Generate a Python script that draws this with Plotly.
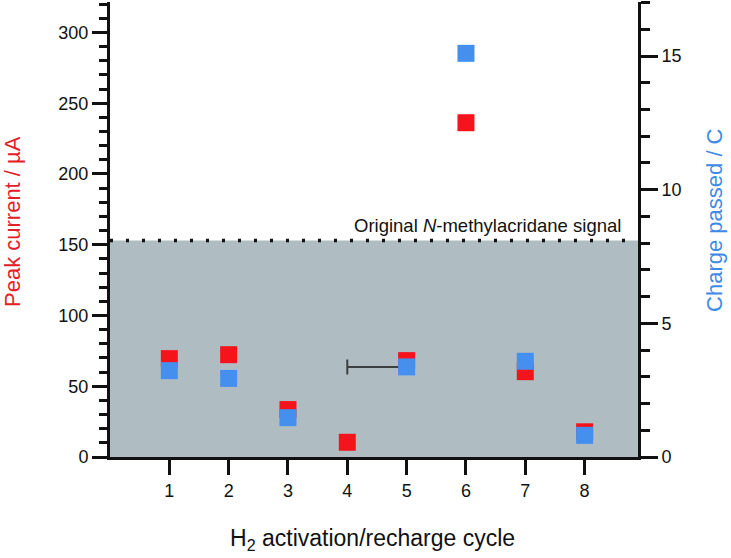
import plotly.graph_objects as go

cycles = [1, 2, 3, 4, 5, 6, 7, 8]
peak_current = [69.5, 72.3, 33.5, 10.4, 68.1, 236.2, 60.3, 17.8]
charge_passed = [3.23, 2.94, 1.47, None, 3.37, 15.1, 3.58, 0.81]
charge_err_minus = [0, 0, 0, 0, 1, 0, 0, 0]
charge_err_plus = [0, 0, 0, 0, 0, 0, 0, 0]
original_signal = 153
x_ticks = [1, 2, 3, 4, 5, 6, 7, 8]

FONT = "Arial, 'Liberation Sans', sans-serif"
RED = "#f5141c"
BLUE = "#4590ee"

fig = go.Figure()

fig.add_trace(go.Scatter(
    x=cycles, y=peak_current, mode="markers",
    marker=dict(symbol="square", size=17, color=RED, line=dict(width=0)),
    yaxis="y", showlegend=False, hoverinfo="skip"))

fig.add_trace(go.Scatter(
    x=cycles, y=charge_passed, mode="markers",
    marker=dict(symbol="square", size=17, color=BLUE, line=dict(width=0)),
    error_x=dict(type="data", symmetric=False, array=charge_err_plus,
                 arrayminus=charge_err_minus, color="#3a3f42",
                 thickness=2, width=7.5),
    yaxis="y2", showlegend=False, hoverinfo="skip"))

fig.add_shape(type="rect", xref="paper", yref="y", x0=0, x1=1,
              y0=0, y1=original_signal, fillcolor="#afbdc2",
              line=dict(width=0), layer="below")
fig.add_shape(type="line", xref="paper", yref="y", x0=0, x1=1,
              y0=original_signal, y1=original_signal,
              line=dict(color="#111111", width=3.5, dash="3px,13px"),
              layer="above")

fig.add_annotation(text="Original <i>N</i>-methylacridane signal",
                   xref="paper", yref="paper", x=0.9716, y=0.5077,
                   xanchor="right", yanchor="middle", showarrow=False,
                   font=dict(family=FONT, size=18.5, color="#111111"))

fig.add_annotation(text="Peak current / µA", xref="paper", yref="paper",
                   x=-0.1837, y=0.5165, xanchor="center", yanchor="middle",
                   textangle=-90, showarrow=False,
                   font=dict(family=FONT, size=22, color="#e3202a"))
fig.add_annotation(text="Charge passed / C", xref="paper", yref="paper",
                   x=1.1458, y=0.521, xanchor="center", yanchor="middle",
                   textangle=-90, showarrow=False,
                   font=dict(family=FONT, size=22, color="#3f8ae6"))
fig.add_annotation(text="H<sub>2</sub> activation/recharge cycle",
                   xref="paper", yref="paper", x=0.498, y=-0.1824,
                   xanchor="center", yanchor="middle", showarrow=False,
                   font=dict(family=FONT, size=23, color="#111111"))

fig.update_layout(
    width=731, height=558,
    margin=dict(l=110, r=93, t=2, b=101),
    paper_bgcolor="white", plot_bgcolor="white",
    font=dict(family=FONT, size=18, color="#111111"),
    xaxis=dict(range=[0, 8.9], tickvals=x_ticks, ticks="outside",
               ticklen=15, tickwidth=3, tickcolor="#111111",
               showline=True, linewidth=3, linecolor="#111111",
               showgrid=False, zeroline=False,
               tickfont=dict(size=18)),
    yaxis=dict(range=[0, 321.5], tick0=0, dtick=50, ticks="outside",
               ticklen=15, tickwidth=3, tickcolor="#111111",
               minor=dict(dtick=10, ticks="outside", ticklen=8,
                          tickwidth=3, tickcolor="#111111"),
               showline=True, linewidth=3, linecolor="#111111",
               showgrid=False, zeroline=False, tickfont=dict(size=18)),
    yaxis2=dict(range=[0, 17.02], tick0=0, dtick=5, ticks="outside",
                ticklen=17, tickwidth=3, tickcolor="#111111",
                minor=dict(dtick=1, ticks="outside", ticklen=9,
                           tickwidth=3, tickcolor="#111111"),
                showline=True, linewidth=3, linecolor="#111111",
                showgrid=False, zeroline=False, overlaying="y",
                side="right", tickfont=dict(size=18)),
)

fig.write_html("out.html", config={"displayModeBar": False},
               post_script="document.body.style.margin='0';document.body.style.overflow='hidden';")
